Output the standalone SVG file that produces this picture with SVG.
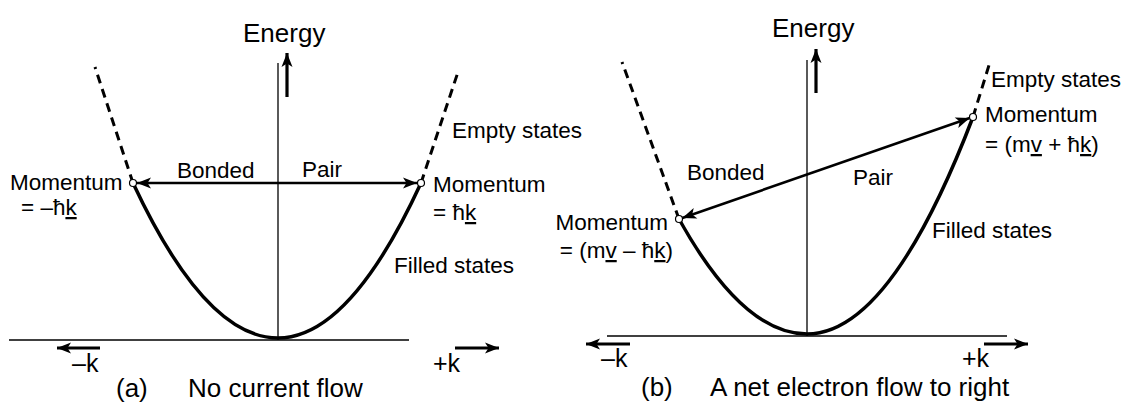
<svg xmlns="http://www.w3.org/2000/svg" width="1128" height="403" viewBox="0 0 1128 403">
<style>
text{font-family:"Liberation Sans",Arial,Helvetica,sans-serif;fill:#000}
.lbl{font-size:22.5px}
.big{font-size:26px}
.kl{font-size:25px}
.axis{stroke:#000;stroke-width:1.3;fill:none}
.curve{stroke:#000;stroke-width:3.5;fill:none}
.dash{stroke:#000;stroke-width:3;fill:none;stroke-dasharray:9 6}
.arr{stroke:#000;stroke-width:2.6;fill:none}
.dir{stroke:#000;stroke-width:3.2;fill:none}
.pt{fill:#fff;stroke:#000;stroke-width:1.2}
</style>
<defs>
<marker id="ah" markerUnits="userSpaceOnUse" markerWidth="16" markerHeight="12" viewBox="0 0 16 12" refX="15" refY="6" orient="auto-start-reverse">
<path d="M15,6 L1,0.5 L4.5,6 L1,11.5 Z" fill="#000"/>
</marker>
</defs>

<g id="panel-a">
<g id="a-axes">
<line class="axis" x1="278" y1="63" x2="278" y2="340"/>
<line class="axis" x1="9" y1="340" x2="409" y2="340"/>
</g>
<g id="a-band">
<path class="curve" d="M133,183 Q205.5,338 278,338 Q349.5,338 421,183"/>
<path class="dash" d="M133,183 L95,67"/>
<path class="dash" d="M421,183 L458,72"/>
</g>
<g id="a-connectors">
<line class="dir" x1="287" y1="97" x2="287" y2="53" marker-end="url(#ah)"/>
<line class="dir" x1="100" y1="348" x2="57" y2="348" marker-end="url(#ah)"/>
<line class="dir" x1="455" y1="348" x2="499" y2="348" marker-end="url(#ah)"/>
<line class="arr" x1="137" y1="183" x2="417" y2="183" marker-start="url(#ah)" marker-end="url(#ah)"/>
</g>
<g id="a-points">
<circle class="pt" cx="133" cy="183" r="3.5"/>
<circle class="pt" cx="421" cy="183" r="3.5"/>
</g>
<g id="a-labels">
<text class="big" x="243" y="42">Energy</text>
<text class="lbl" x="10" y="190">Momentum</text>
<text class="lbl" x="21" y="215">= –ħ<tspan text-decoration="underline">k</tspan></text>
<text class="lbl" x="177" y="178">Bonded</text>
<text class="lbl" x="302" y="177">Pair</text>
<text class="lbl" x="433" y="192">Momentum</text>
<text class="lbl" x="433" y="220">= ħ<tspan text-decoration="underline">k</tspan></text>
<text class="lbl" x="452" y="138">Empty states</text>
<text class="lbl" x="394" y="273">Filled states</text>
<text class="kl" x="72" y="372">–k</text>
<text class="kl" x="433" y="372">+k</text>
<text class="big" x="116" y="397">(a)</text>
<text class="big" x="188" y="397">No current flow</text>
</g>
</g>

<g id="panel-b">
<g id="b-axes">
<line class="axis" x1="807" y1="60" x2="807" y2="336"/>
<line class="axis" x1="607" y1="336" x2="1007" y2="336"/>
</g>
<g id="b-band">
<path class="curve" d="M679,219 Q743,334 807,334 Q890,334 973,117"/>
<path class="dash" d="M679,219 L622,62"/>
<path class="dash" d="M973,117 L990,62"/>
</g>
<g id="b-connectors">
<line class="dir" x1="816" y1="93" x2="816" y2="49" marker-end="url(#ah)"/>
<line class="dir" x1="630" y1="344" x2="586" y2="344" marker-end="url(#ah)"/>
<line class="dir" x1="984" y1="344" x2="1028" y2="344" marker-end="url(#ah)"/>
<line class="arr" x1="682.3" y1="217.9" x2="969.7" y2="118.1" marker-start="url(#ah)" marker-end="url(#ah)"/>
</g>
<g id="b-points">
<circle class="pt" cx="679" cy="219" r="3.5"/>
<circle class="pt" cx="973" cy="117" r="3.5"/>
</g>
<g id="b-labels">
<text class="big" x="772" y="37">Energy</text>
<text class="lbl" x="991" y="87">Empty states</text>
<text class="lbl" x="985" y="122">Momentum</text>
<text class="lbl" x="985" y="152">= (m<tspan text-decoration="underline">v</tspan> + ħ<tspan text-decoration="underline">k</tspan>)</text>
<text class="lbl" x="687" y="180">Bonded</text>
<text class="lbl" x="853" y="185">Pair</text>
<text class="lbl" x="668" y="230" text-anchor="end">Momentum</text>
<text class="lbl" x="673" y="258" text-anchor="end">= (m<tspan text-decoration="underline">v</tspan> – ħ<tspan text-decoration="underline">k</tspan>)</text>
<text class="lbl" x="932" y="238">Filled states</text>
<text class="kl" x="601" y="367">–k</text>
<text class="kl" x="962" y="367">+k</text>
<text class="big" x="641" y="396">(b)</text>
<text class="big" x="710" y="396">A net electron flow to right</text>
</g>
</g>
</svg>
